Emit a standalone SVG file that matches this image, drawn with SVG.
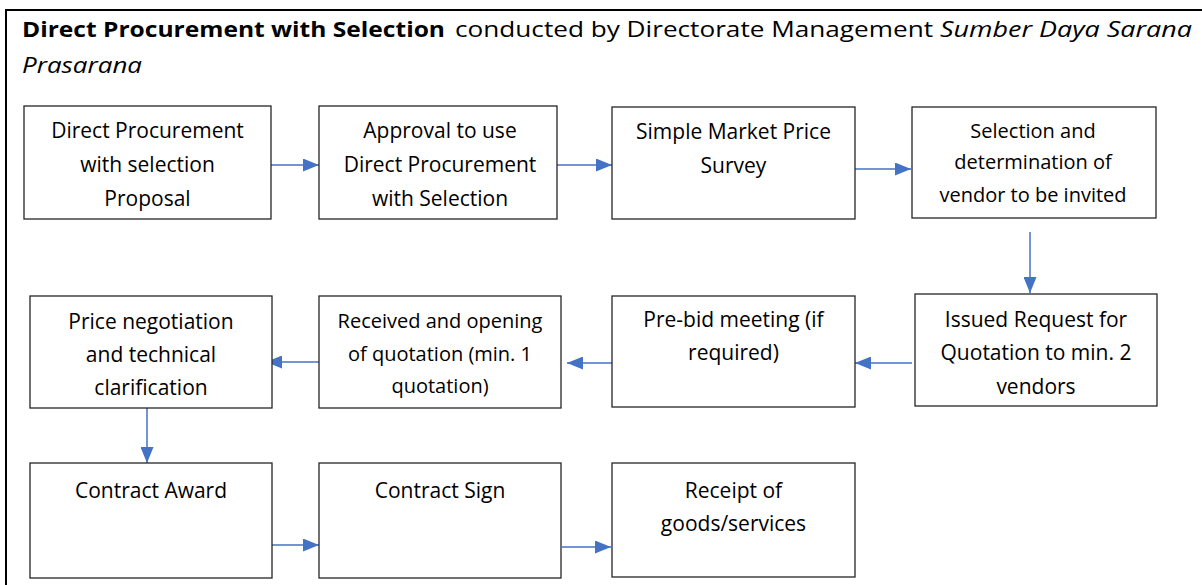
<svg xmlns="http://www.w3.org/2000/svg" width="1202" height="585" viewBox="0 0 1202 585">
  <style>
    .frame { fill: none; stroke: #000; stroke-width: 2; }
    .box { fill: #fff; stroke: #262626; stroke-width: 1.3; }
    .t { font-family: "Open Sans", "Liberation Sans", sans-serif; font-size: 21px; fill: #000; text-anchor: middle; }
    .ts { font-size: 20px; }
    .title { font-family: "Open Sans", "Liberation Sans", sans-serif; font-size: 21px; fill: #000; }
    .conn { fill: none; stroke: #4472C4; stroke-width: 1.5; marker-end: url(#head); }
  </style>
  <defs>
    <marker id="head" markerUnits="userSpaceOnUse" markerWidth="16" markerHeight="13" refX="16" refY="6.5" orient="auto">
      <path d="M0,0 L16,6.5 L0,13 z" fill="#4472C4"/>
    </marker>
  </defs>

  <!-- outer frame, open past the right and bottom edges -->
  <rect class="frame" x="6" y="10" width="1300" height="700"/>

  <g id="title">
    <text class="title" x="22" y="37" font-weight="bold" font-size="20" textLength="423" lengthAdjust="spacingAndGlyphs">Direct Procurement with Selection</text>
    <text class="title" x="455" y="37" textLength="478" lengthAdjust="spacingAndGlyphs">conducted by Directorate Management</text>
    <text class="title" x="940" y="37" font-style="italic" textLength="252" lengthAdjust="spacingAndGlyphs">Sumber Daya Sarana</text>
    <text class="title" x="22" y="73" font-style="italic" textLength="120" lengthAdjust="spacingAndGlyphs">Prasarana</text>
  </g>

  <g id="connectors">
    <path class="conn" d="M271,165 H319"/>
    <path class="conn" d="M557,165 H612"/>
    <path class="conn" d="M855,169 H911"/>
    <path class="conn" d="M1030,232 V293"/>
    <path class="conn" d="M912,363 H855"/>
    <path class="conn" d="M612,363 H567"/>
    <path class="conn" d="M319,362 H266"/>
    <path class="conn" d="M147,408 V463"/>
    <path class="conn" d="M272,545 H319"/>
    <path class="conn" d="M562,547 H611"/>
  </g>

  <g id="n1">
    <rect class="box" x="24" y="106" width="247" height="113"/>
    <text class="t" x="147.5" y="138">Direct Procurement</text>
    <text class="t" x="147.5" y="172">with selection</text>
    <text class="t" x="147.5" y="206">Proposal</text>
  </g>
  <g id="n2">
    <rect class="box" x="319" y="106" width="238" height="113"/>
    <text class="t" x="440" y="138">Approval to use</text>
    <text class="t" x="440" y="172">Direct Procurement</text>
    <text class="t" x="440" y="206">with Selection</text>
  </g>
  <g id="n3">
    <rect class="box" x="612" y="107" width="243" height="112"/>
    <text class="t" x="733.5" y="139">Simple Market Price</text>
    <text class="t" x="733.5" y="173">Survey</text>
  </g>
  <g id="n4">
    <rect class="box" x="912" y="107" width="244" height="111"/>
    <text class="t ts" x="1033" y="138">Selection and</text>
    <text class="t ts" x="1033" y="169">determination of</text>
    <text class="t ts" x="1033" y="202">vendor to be invited</text>
  </g>

  <g id="n5">
    <rect class="box" x="30" y="296" width="242" height="112"/>
    <text class="t" x="151" y="329">Price negotiation</text>
    <text class="t" x="151" y="362">and technical</text>
    <text class="t" x="151" y="395">clarification</text>
  </g>
  <g id="n6">
    <rect class="box" x="319" y="296" width="242" height="112"/>
    <text class="t ts" x="440" y="328">Received and opening</text>
    <text class="t ts" x="440" y="361">of quotation (min. 1</text>
    <text class="t ts" x="440" y="393">quotation)</text>
  </g>
  <g id="n7">
    <rect class="box" x="612" y="296" width="243" height="111"/>
    <text class="t" x="733.5" y="327">Pre-bid meeting (if</text>
    <text class="t" x="733.5" y="360">required)</text>
  </g>
  <g id="n8">
    <rect class="box" x="915" y="294" width="242" height="112"/>
    <text class="t" x="1036" y="327">Issued Request for</text>
    <text class="t" x="1036" y="360">Quotation to min. 2</text>
    <text class="t" x="1036" y="394">vendors</text>
  </g>

  <g id="n9">
    <rect class="box" x="30" y="463" width="242" height="115"/>
    <text class="t" x="151" y="498">Contract Award</text>
  </g>
  <g id="n10">
    <rect class="box" x="319" y="463" width="242" height="115"/>
    <text class="t" x="440" y="498">Contract Sign</text>
  </g>
  <g id="n11">
    <rect class="box" x="612" y="463" width="243" height="114"/>
    <text class="t" x="733.5" y="498">Receipt of</text>
    <text class="t" x="733.5" y="531">goods/services</text>
  </g>
</svg>
